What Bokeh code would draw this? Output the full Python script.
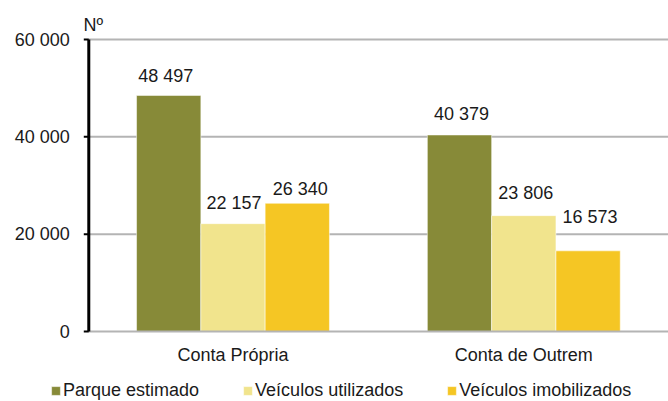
from bokeh.plotting import figure
from bokeh.models import (ColumnDataSource, Range1d, Legend, LegendItem,
                          LabelSet, Label)
from bokeh.core.properties import value
from bokeh.transform import dodge
from bokeh.embed import file_html
from bokeh.resources import INLINE

# ---- data ----
categories = ["Conta Própria", "Conta de Outrem"]
series_names = ["Parque estimado", "Veículos utilizados", "Veículos imobilizados"]
parque_estimado = [48497, 40379]
veiculos_utilizados = [22157, 23806]
veiculos_imobilizados = [26340, 16573]
y_ticks = [0, 20000, 40000, 60000]
y_tick_labels = ["0", "20 000", "40 000", "60 000"]
unit_label = "Nº"

# ---- styling / layout ----
W, H = 668, 401
colors = ["#878A38", "#F1E48D", "#F5C624"]
bar_offsets = [-0.2211, 0.0, 0.2211]
bar_width = 0.2211
label_gap = [[13, 15], [15, 17], [8, 28]]      # px above bar top (label baseline)
label_shift = [[-3, 2], [1, 2], [3, 2]]        # px horizontal nudge
FONT = "Liberation Sans"
TXT = "#1A1A1A"
GRID = "#B4B4B4"

X0, X1 = -0.7995, 1.4976          # x range (category index units)
Y0, Y1 = -14384, 68014            # y range
AXIS_X = -0.4959                  # where the value axis sits
TICK_LEN = 0.0172                 # 5 px in x units
UNIT_X, UNIT_Y = -0.5141, 63080   # position of the unit label

p = figure(width=W, height=H, x_range=Range1d(X0, X1), y_range=Range1d(Y0, Y1),
           output_backend="svg", toolbar_location=None,
           x_axis_location=None, y_axis_location=None,
           min_border=0, min_border_left=0, min_border_right=0,
           min_border_top=0, min_border_bottom=0)
p.outline_line_color = None
p.grid.visible = False
p.background_fill_color = "white"
p.border_fill_color = "white"

# horizontal gridlines (non-zero)
grid_src = ColumnDataSource(dict(y=[t for t in y_ticks if t != 0]))
p.segment(x0=AXIS_X, x1=X1, y0="y", y1="y", source=grid_src,
          line_color=GRID, line_width=2)

all_values = [parque_estimado, veiculos_utilizados, veiculos_imobilizados]
items = []
for k, (name, vals) in enumerate(zip(series_names, all_values)):
    src = ColumnDataSource(dict(
        x=list(range(len(categories))),
        top=vals,
        label=[f"{v:,}".replace(",", " ") for v in vals],
        gap=label_gap[k],
        shift=label_shift[k],
    ))
    r = p.vbar(x=dodge("x", bar_offsets[k], range=p.x_range), top="top",
               bottom=0, width=bar_width, source=src, fill_color=colors[k],
               line_color="white", line_alpha=0.5, line_width=1)
    items.append(LegendItem(label=name, renderers=[r]))
    p.add_layout(LabelSet(x=dodge("x", bar_offsets[k], range=p.x_range), y="top",
                          text="label", source=src, x_offset="shift", y_offset="gap",
                          text_align="center", text_baseline="alphabetic",
                          text_font=value(FONT), text_font_size=value("18px"),
                          text_color=TXT))

# zero line (category axis)
p.segment(x0=AXIS_X, x1=X1, y0=0, y1=0, line_color=GRID, line_width=2)

# value axis: line, ticks, labels
p.segment(x0=AXIS_X, x1=AXIS_X, y0=y_ticks[0], y1=y_ticks[-1],
          line_color="black", line_width=3)
tick_src = ColumnDataSource(dict(y=y_ticks, label=y_tick_labels))
p.segment(x0=AXIS_X - TICK_LEN, x1=AXIS_X, y0="y", y1="y", source=tick_src,
          line_color="black", line_width=2)
p.add_layout(LabelSet(x=AXIS_X, y="y", text="label", source=tick_src,
                      x_offset=-19, text_align="right", text_baseline="middle",
                      text_font=value(FONT), text_font_size=value("18px"),
                      text_color=TXT))

# category labels
cat_src = ColumnDataSource(dict(x=list(range(len(categories))), label=categories))
p.add_layout(LabelSet(x="x", y=0, text="label", source=cat_src, y_offset=-30,
                      text_align="center", text_baseline="alphabetic",
                      text_font=value(FONT), text_font_size=value("18px"),
                      text_color=TXT))

# unit label
p.add_layout(Label(x=UNIT_X, y=UNIT_Y, text=unit_label, text_font=FONT,
                   text_font_size="18px", text_color=TXT,
                   text_baseline="alphabetic", text_align="left"))

legend = Legend(items=items, orientation="horizontal", location=(50, 0.5),
                glyph_width=11, glyph_height=11, label_standoff=2, spacing=43,
                padding=0, margin=0, border_line_color=None,
                background_fill_alpha=0,
                label_text_font=FONT, label_text_font_size="18px",
                label_text_color=TXT, label_height=20)
p.add_layout(legend)

open("out.html", "w").write(file_html(p, INLINE))
